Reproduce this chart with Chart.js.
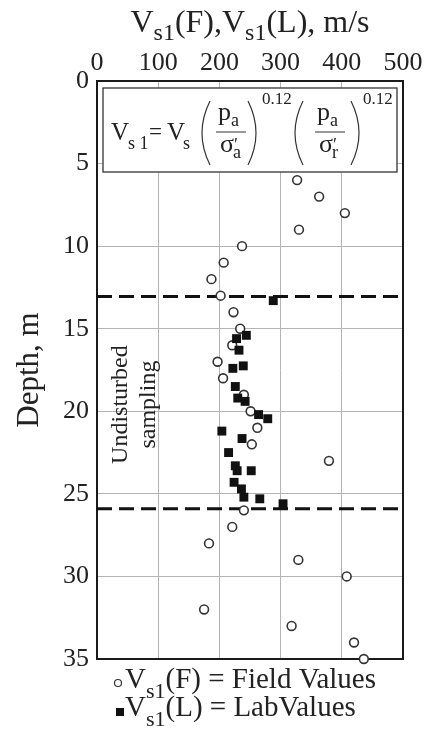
<!DOCTYPE html>
<html lang="en">
<head>
<meta charset="UTF-8">
<title>Vs1 profile with depth</title>
<script src="https://cdn.jsdelivr.net/npm/chart.js@4.4.0/dist/chart.umd.min.js"></script>
<style>
  html, body { margin: 0; padding: 0; background: #fff; }
  #wrap { width: 428px; height: 729px; }
</style>
</head>
<body>
<div id="wrap"><canvas id="vsChart" width="428" height="729"></canvas></div>
<script>
// field values Vs1(F): depth (m) and normalised shear wave velocity (m/s)
const fieldDepth = [6, 7, 8, 9, 10, 11, 12, 13, 14, 15, 16, 17, 18, 19, 20, 21, 22, 23, 26, 27, 28, 29, 30, 32, 33, 34, 35];
const fieldVs1 = [327, 363, 405, 330, 237, 207, 187, 202, 223, 234, 221, 197, 206, 240, 251, 262, 253, 379, 240, 221, 183, 329, 408, 175, 318, 420, 436];

// lab values Vs1(L) on the undisturbed samples
const labDepth = [13.3, 15.4, 15.6, 16.3, 17.25, 17.4, 18.5, 19.2, 19.4, 20.2, 20.45, 21.2, 21.65, 22.5, 23.3, 23.6, 23.6, 24.3, 24.7, 25.2, 25.3, 25.6];
const labVs1 = [288, 244, 228, 232, 239, 222, 226, 230, 242, 264, 279, 204, 237, 215, 226, 229, 252, 224, 236, 240, 266, 304];

const velocityTicks = [0, 100, 200, 300, 400, 500];
const depthTicks = [0, 5, 10, 15, 20, 25, 30, 35];

// top and bottom of the undisturbed sampling zone (m)
const samplingLimits = [13.05, 25.9];

const SERIF = '"Liberation Serif", "Times New Roman", serif';
const INK = '#222';

// draws a row of text pieces, each [text, size, dy]
function drawRuns(ctx, runs, x, y, align) {
    let w = 0;
    runs.forEach(r => { ctx.font = r[1] + 'px ' + SERIF; w += ctx.measureText(r[0]).width; });
    let cx = align === 'center' ? x - w / 2 : x;
    ctx.textAlign = 'left';
    ctx.textBaseline = 'alphabetic';
    runs.forEach(r => {
        ctx.font = r[1] + 'px ' + SERIF;
        ctx.fillText(r[0], cx, y + (r[2] || 0));
        cx += ctx.measureText(r[0]).width;
    });
}

function paren(ctx, x0, x1, top, bottom, left) {
    // thin curved bracket; x1 is the tip side, x0 the belly
    ctx.beginPath();
    ctx.moveTo(x1, top);
    ctx.quadraticCurveTo(left ? x0 - 6 : x0 + 6, (top + bottom) / 2, x1, bottom);
    ctx.stroke();
}

const framePlugin = {
    id: 'frame',
    beforeDatasetsDraw(chart) {
        const ctx = chart.ctx;
        const a = chart.chartArea;
        const y = chart.scales.y;
        ctx.save();

        // plot frame
        ctx.strokeStyle = '#1a1a1a';
        ctx.lineWidth = 2;
        ctx.strokeRect(a.left, a.top, a.right - a.left, a.bottom - a.top);

        // formula box
        const bx = a.left + 6, by = a.top + 7, bw = a.right - a.left - 12, bh = 84;
        ctx.fillStyle = '#fff';
        ctx.fillRect(bx, by, bw, bh);
        ctx.lineWidth = 1.3;
        ctx.strokeStyle = '#333';
        ctx.strokeRect(bx, by, bw, bh);

        ctx.fillStyle = INK;
        const base = by + 52;
        drawRuns(ctx, [['V', 25]], bx + 8, base);
        drawRuns(ctx, [['s 1', 18]], bx + 25, base + 9);
        drawRuns(ctx, [['=', 23]], bx + 46, base - 1);
        drawRuns(ctx, [['V', 25]], bx + 64, base);
        drawRuns(ctx, [['s', 18]], bx + 80, base + 9);

        ctx.lineWidth = 1.2;
        ctx.strokeStyle = '#333';
        const pt = by + 13, pb = by + 77;
        paren(ctx, bx + 97, bx + 107, pt, pb, true);
        paren(ctx, bx + 155, bx + 145, pt, pb, false);
        paren(ctx, bx + 190, bx + 200, pt, pb, true);
        paren(ctx, bx + 258, bx + 248, pt, pb, false);

        // the two pressure ratios
        [bx + 113, bx + 212].forEach((fx, i) => {
            drawRuns(ctx, [['p', 26]], fx + 2, base - 20);
            drawRuns(ctx, [['a', 18]], fx + 15, base - 14);
            ctx.beginPath();
            ctx.lineWidth = 1;
            ctx.moveTo(fx, base - 8);
            ctx.lineTo(fx + 30, base - 8);
            ctx.stroke();
            drawRuns(ctx, [['σ', 26]], fx + 4, base + 12);
            drawRuns(ctx, [['′', 18]], fx + 18, base + 11);
            drawRuns(ctx, [[i === 0 ? 'a' : 'r', 18]], fx + 17, base + 18);
        });
        drawRuns(ctx, [['0.12', 17]], bx + 159, by + 16);
        drawRuns(ctx, [['0.12', 17]], bx + 260, by + 16);

        // dashed limits of the undisturbed sampling zone
        ctx.strokeStyle = '#111';
        ctx.lineWidth = 3;
        ctx.setLineDash([15, 7]);
        samplingLimits.forEach(d => {
            const py = y.getPixelForValue(d);
            ctx.beginPath();
            ctx.moveTo(a.left, py);
            ctx.lineTo(a.right, py);
            ctx.stroke();
        });
        ctx.restore();
    },
    afterDraw(chart) {
        const ctx = chart.ctx;
        const y = chart.scales.y;
        ctx.save();
        ctx.fillStyle = INK;

        // axis title on top
        drawRuns(ctx, [['V', 32], ['s1', 24, 8], ['(F),V', 32], ['s1', 24, 8], ['(L), m/s', 32]],
            (chart.chartArea.left + chart.chartArea.right) / 2, 32, 'center');

        // sampling zone label
        ctx.font = '24px ' + SERIF;
        ctx.textAlign = 'center';
        ctx.textBaseline = 'alphabetic';
        const midY = y.getPixelForValue((samplingLimits[0] + samplingLimits[1]) / 2);
        [['Undisturbed', 30], ['sampling', 58]].forEach(([t, dx]) => {
            ctx.save();
            ctx.translate(chart.chartArea.left + dx, midY + 2);
            ctx.rotate(-Math.PI / 2);
            ctx.fillText(t, 0, 0);
            ctx.restore();
        });

        // legend
        const lx = 118;
        ctx.strokeStyle = '#333';
        ctx.lineWidth = 1.2;
        ctx.beginPath();
        ctx.arc(lx, 683, 3.5, 0, Math.PI * 2);
        ctx.stroke();
        drawRuns(ctx, [['V', 29], ['s1', 22, 10], ['(F) = Field Values', 29]], 125, 688);
        ctx.fillStyle = '#111';
        ctx.fillRect(lx - 2, 708, 8, 8);
        ctx.fillStyle = INK;
        drawRuns(ctx, [['V', 29], ['s1', 22, 10], ['(L) = LabValues', 29]], 125, 716);
        ctx.restore();
    }
};

const ctx = document.getElementById('vsChart').getContext('2d');
new Chart(ctx, {
    type: 'scatter',
    data: {
        datasets: [
            {
                label: 'Vs1(L) = LabValues',
                data: labVs1.map((v, i) => ({ x: v, y: labDepth[i] })),
                pointStyle: 'rect',
                pointRadius: 6.3,
                backgroundColor: '#111',
                borderColor: '#111',
                borderWidth: 0,
                clip: false
            },
            {
                label: 'Vs1(F) = Field Values',
                data: fieldVs1.map((v, i) => ({ x: v, y: fieldDepth[i] })),
                pointStyle: 'circle',
                pointRadius: 4.4,
                backgroundColor: '#fff',
                borderColor: '#333',
                borderWidth: 1.6,
                clip: false
            }
        ]
    },
    options: {
        responsive: false,
        devicePixelRatio: 1,
        animation: false,
        layout: { padding: { left: 0, top: 0, right: 25, bottom: 70 } },
        plugins: { legend: { display: false }, tooltip: { enabled: false } },
        scales: {
            x: {
                type: 'linear',
                position: 'top',
                min: 0,
                max: 500,
                afterBuildTicks: s => { s.ticks = velocityTicks.map(v => ({ value: v })); },
                afterFit: s => { s.height = 81; },
                ticks: { font: { family: SERIF, size: 26 }, color: INK, padding: 2 },
                grid: { color: '#b4b4b4', lineWidth: 1, drawTicks: false },
                border: { display: true, color: '#1a1a1a', width: 2 }
            },
            y: {
                type: 'linear',
                reverse: true,
                min: 0,
                max: 35,
                afterBuildTicks: s => { s.ticks = depthTicks.map(v => ({ value: v })); },
                afterFit: s => { s.width = 97; },
                ticks: { font: { family: SERIF, size: 26 }, color: INK, padding: 8 },
                grid: { color: '#b4b4b4', lineWidth: 1, drawTicks: false },
                border: { display: true, color: '#1a1a1a', width: 2 },
                title: { display: true, text: 'Depth, m', font: { family: SERIF, size: 31 }, color: INK, padding: { top: 11, bottom: 0 } }
            }
        }
    },
    plugins: [framePlugin]
});
</script>
</body>
</html>
